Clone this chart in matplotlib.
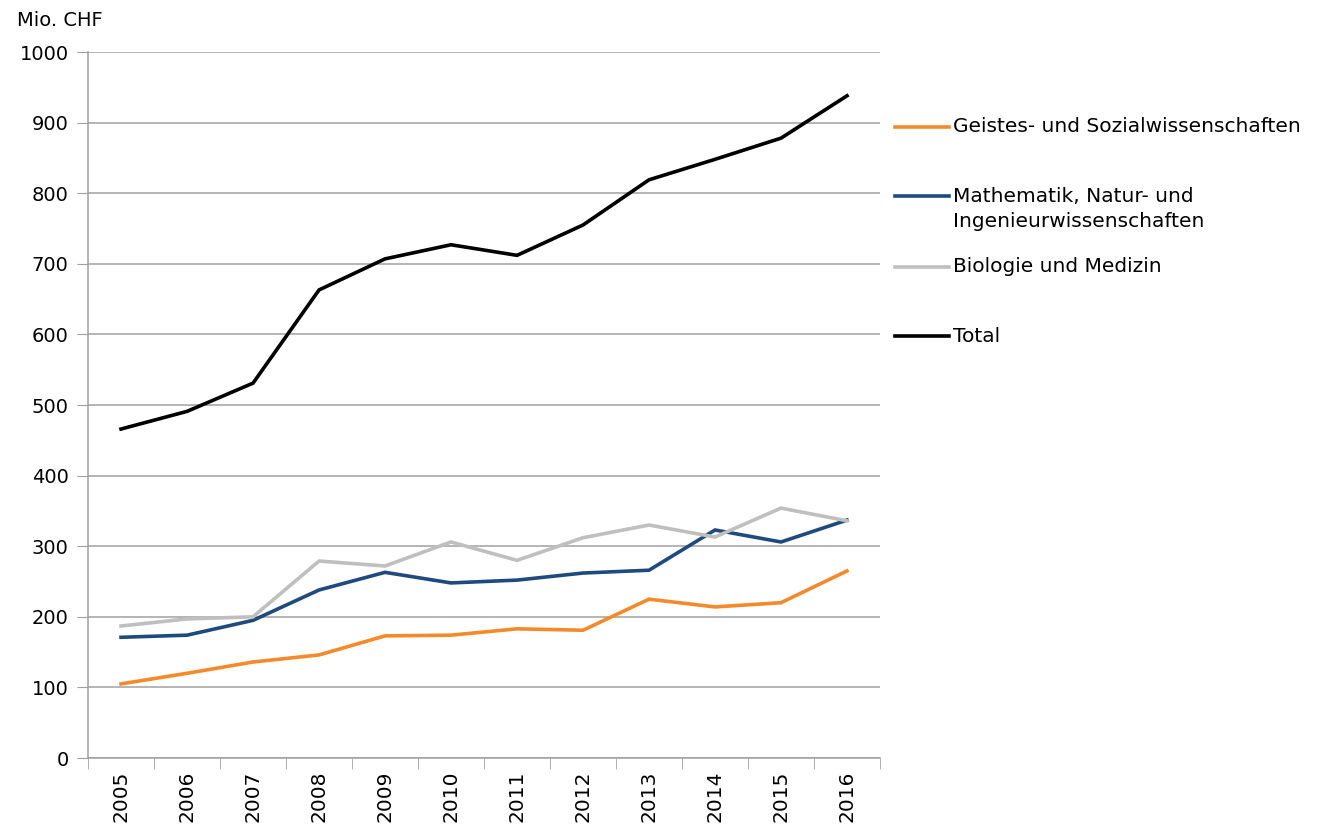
import matplotlib.pyplot as plt
from matplotlib.lines import Line2D

# data (Mio. CHF)
years = ["2005", "2006", "2007", "2008", "2009", "2010", "2011", "2012", "2013", "2014", "2015", "2016"]
geistes = [105, 120, 136, 146, 173, 174, 183, 181, 225, 214, 220, 265]
mathe = [171, 174, 195, 238, 263, 248, 252, 262, 266, 323, 306, 337]
bio = [187, 197, 200, 279, 272, 306, 280, 312, 330, 313, 354, 336]
total = [466, 491, 531, 663, 707, 727, 712, 755, 819, 848, 878, 938]

labels = ["Geistes- und Sozialwissenschaften",
          "Mathematik, Natur- und\nIngenieurwissenschaften",
          "Biologie und Medizin",
          "Total"]
colors = ["#F58A2C", "#1F4A7E", "#BFBFBF", "#000000"]
series = [geistes, mathe, bio, total]

plt.rcParams['font.family'] = ['DejaVu Sans']

fig = plt.figure(figsize=(13.38, 8.35), dpi=100)
ax = fig.add_axes([0.0658, 0.0922, 0.5919, 0.8455])

x = list(range(len(years)))
for vals, c in zip(series, colors):
    ax.plot(x, vals, color=c, lw=2.6, solid_joinstyle='miter')

ax.set_xlim(-0.5, len(years) - 0.5)
ax.set_ylim(0, 1000)
ax.set_yticks(range(0, 1001, 100))
ax.yaxis.grid(True, color="#A0A0A0", lw=1.1)
ax.set_axisbelow(True)
ax.tick_params(axis='y', length=8, color="#A0A0A0", labelsize=14, pad=6)

ax.set_xticks(x)
ax.set_xticklabels(years, rotation=90, fontsize=14.5)
ax.set_xticks([i - 0.5 for i in range(len(years) + 1)], minor=True)
ax.tick_params(axis='x', which='major', length=0, pad=9)
ax.tick_params(axis='x', which='minor', length=8, color="#A0A0A0")

for s in ['top', 'right']:
    ax.spines[s].set_visible(False)
for s in ['left', 'bottom']:
    ax.spines[s].set_color("#A0A0A0")
    ax.spines[s].set_linewidth(1.1)

fig.text(17 / 1338, 1 - 20 / 835, "Mio. CHF", fontsize=14, va='center', ha='left')

# legend drawn at right (line aligned with first text row)
leg_y = [127, 196, 267, 336]
for lab, c, yp in zip(labels, colors, leg_y):
    yf = 1 - yp / 835
    fig.add_artist(Line2D([895 / 1338, 949 / 1338], [yf, yf], color=c, lw=2.6,
                          transform=fig.transFigure))
    for k, row in enumerate(lab.split("\n")):
        fig.text(953 / 1338, 1 - (yp + 26 * k) / 835, row, fontsize=14.5,
                 va='center', ha='left')

fig.savefig("out.png", dpi=100)
